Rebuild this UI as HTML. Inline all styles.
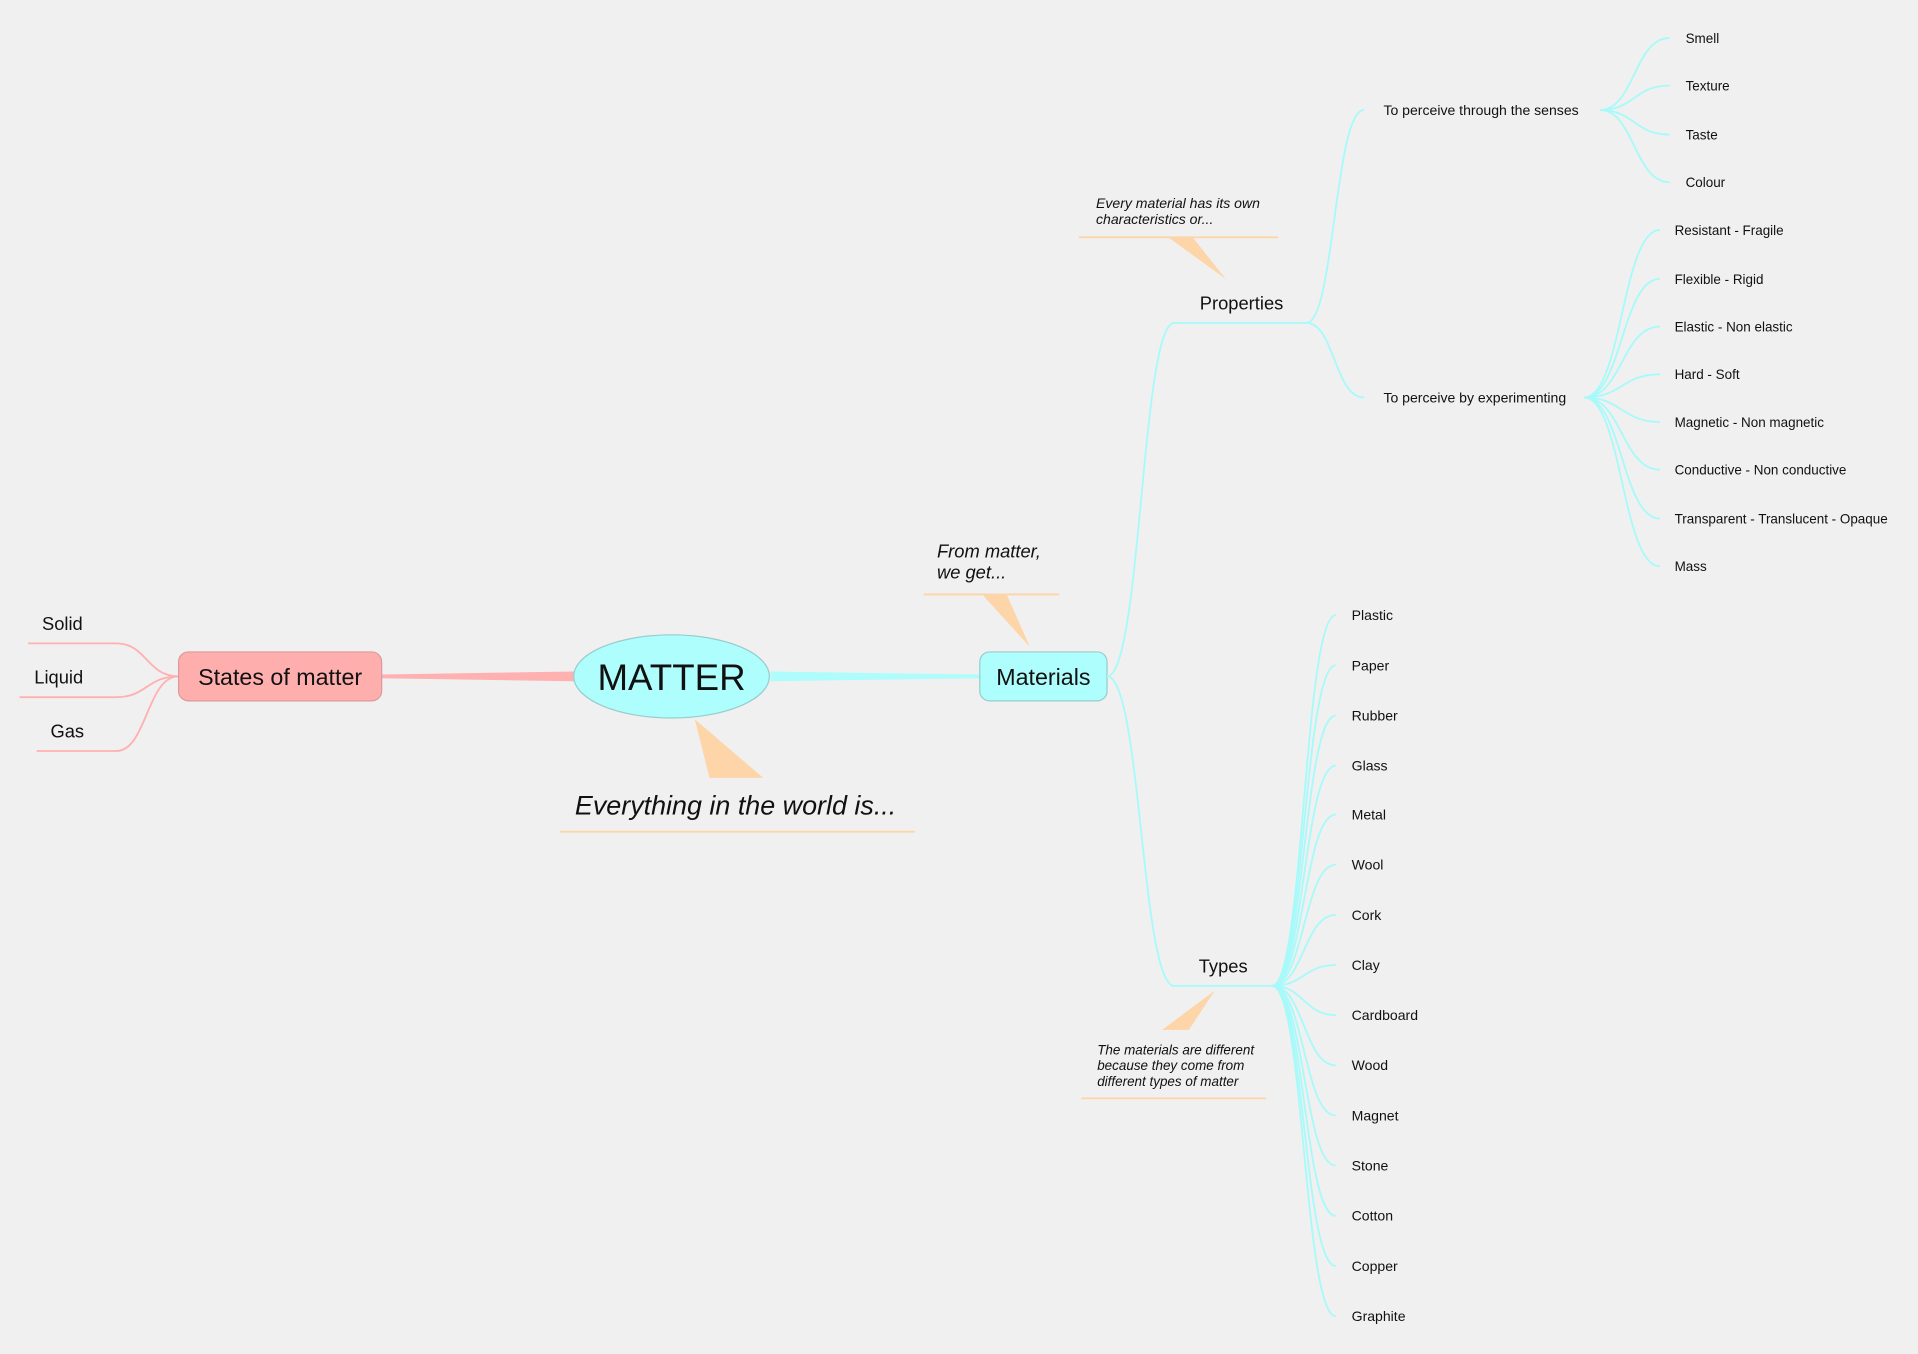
<!DOCTYPE html>
<html><head><meta charset="utf-8"><style>
html,body{margin:0;padding:0;background:#f0f0f0;}
svg{display:block;}
text{font-family:"Liberation Sans",sans-serif;fill:#111;}
.it{font-style:italic;}
.c{fill:none;stroke:#a8fafa;stroke-width:1.5;}
.p{fill:none;stroke:#ffb0b0;stroke-width:1.5;}
.n{fill:#fdd5a8;}
.u{stroke:#fdd5a8;stroke-width:1.5;}
</style></head><body>
<svg width="1918" height="1354" viewBox="0 0 1568 1107" preserveAspectRatio="none">
<rect width="1568" height="1107" fill="#f0f0f0"/>
<!-- main connectors -->
<polygon points="312,551.5 469,549 469,557 312,554.5" fill="#ffb0b0"/>
<polygon points="630,549 630,557 801,554.5 801,551.5" fill="#aefcfc"/>
<!-- pink branches -->
<path class="p" d="M146 553 C120 553 120 526 95 526 L23 526"/>
<path class="p" d="M146 553 C120 553 120 570 95 570 L16 570"/>
<path class="p" d="M146 553 C120 553 120 614 95 614 L30 614"/>
<text x="51" y="515" font-size="15" text-anchor="middle">Solid</text>
<text x="48" y="559" font-size="15" text-anchor="middle">Liquid</text>
<text x="55" y="603" font-size="15" text-anchor="middle">Gas</text>
<!-- nodes -->
<rect x="146" y="533" width="166" height="40" rx="8" fill="#ffaeae" stroke="#d99" stroke-width="1"/>
<text x="229" y="560" font-size="19" text-anchor="middle">States of matter</text>
<ellipse cx="549" cy="553" rx="80" ry="34" fill="#aefefe" stroke="#9cc" stroke-width="1"/>
<text x="549" y="564" font-size="30" text-anchor="middle">MATTER</text>
<rect x="801" y="533" width="104" height="40" rx="8" fill="#aefefe" stroke="#9cc" stroke-width="1"/>
<text x="853" y="560" font-size="19" text-anchor="middle">Materials</text>
<!-- notes -->
<polygon class="n" points="568,588 580,636 624,636"/>
<text x="470" y="666" font-size="22" class="it">Everything in the world is...</text>
<line class="u" x1="458" y1="680" x2="748" y2="680"/>
<text x="766" y="456" font-size="15" class="it">From matter,</text>
<text x="766" y="473" font-size="15" class="it">we get...</text>
<line class="u" x1="755" y1="486" x2="866" y2="486"/>
<polygon class="n" points="803,486 823,486 842,529"/>
<!-- properties -->
<path class="c" d="M905 553 C933 553 933 264 960 264 L1068 264"/>
<text x="1015" y="253" font-size="15" text-anchor="middle">Properties</text>
<text x="896" y="170" font-size="11.5" class="it">Every material has its own</text>
<text x="896" y="183" font-size="11.5" class="it">characteristics or...</text>
<line class="u" x1="882" y1="194" x2="1045" y2="194"/>
<polygon class="n" points="955,194 975,194 1002,228"/>
<path class="c" d="M1068 264 C1091 264 1091 90 1115 90"/>
<path class="c" d="M1068 264 C1091 264 1091 325 1115 325"/>
<text x="1131" y="94" font-size="11.5">To perceive through the senses</text>
<text x="1131" y="329" font-size="11.5">To perceive by experimenting</text>
<path class="c" d="M1308 90 C1336 90 1336 31 1365 31"/>
<path class="c" d="M1308 90 C1336 90 1336 70 1365 70"/>
<path class="c" d="M1308 90 C1336 90 1336 110 1365 110"/>
<path class="c" d="M1308 90 C1336 90 1336 149 1365 149"/>
<text x="1378" y="35" font-size="11">Smell</text>
<text x="1378" y="74" font-size="11">Texture</text>
<text x="1378" y="114" font-size="11">Taste</text>
<text x="1378" y="153" font-size="11">Colour</text>
<path class="c" d="M1295 325 C1326 325 1326 188 1357 188"/>
<path class="c" d="M1295 325 C1326 325 1326 228 1357 228"/>
<path class="c" d="M1295 325 C1326 325 1326 267 1357 267"/>
<path class="c" d="M1295 325 C1326 325 1326 306 1357 306"/>
<path class="c" d="M1295 325 C1326 325 1326 345 1357 345"/>
<path class="c" d="M1295 325 C1326 325 1326 384 1357 384"/>
<path class="c" d="M1295 325 C1326 325 1326 424 1357 424"/>
<path class="c" d="M1295 325 C1326 325 1326 463 1357 463"/>
<text x="1369" y="192" font-size="11">Resistant - Fragile</text>
<text x="1369" y="232" font-size="11">Flexible - Rigid</text>
<text x="1369" y="271" font-size="11">Elastic - Non elastic</text>
<text x="1369" y="310" font-size="11">Hard - Soft</text>
<text x="1369" y="349" font-size="11">Magnetic - Non magnetic</text>
<text x="1369" y="388" font-size="11">Conductive - Non conductive</text>
<text x="1369" y="428" font-size="11">Transparent - Translucent - Opaque</text>
<text x="1369" y="467" font-size="11">Mass</text>
<!-- types -->
<path class="c" d="M905 553 C933 553 933 806 960 806 L1040 806"/>
<text x="1000" y="795" font-size="15" text-anchor="middle">Types</text>
<polygon class="n" points="993,810 950,842 972,842"/>
<text x="897" y="862" font-size="11" class="it">The materials are different</text>
<text x="897" y="875" font-size="11" class="it">because they come from</text>
<text x="897" y="888" font-size="11" class="it">different types of matter</text>
<line class="u" x1="884" y1="898" x2="1035" y2="898"/>
<path class="c" d="M1040 806 C1066 806 1066 503 1092 503"/>
<path class="c" d="M1040 806 C1066 806 1066 544 1092 544"/>
<path class="c" d="M1040 806 C1066 806 1066 585 1092 585"/>
<path class="c" d="M1040 806 C1066 806 1066 626 1092 626"/>
<path class="c" d="M1040 806 C1066 806 1066 666 1092 666"/>
<path class="c" d="M1040 806 C1066 806 1066 707 1092 707"/>
<path class="c" d="M1040 806 C1066 806 1066 748 1092 748"/>
<path class="c" d="M1040 806 C1066 806 1066 789 1092 789"/>
<path class="c" d="M1040 806 C1066 806 1066 830 1092 830"/>
<path class="c" d="M1040 806 C1066 806 1066 871 1092 871"/>
<path class="c" d="M1040 806 C1066 806 1066 912 1092 912"/>
<path class="c" d="M1040 806 C1066 806 1066 953 1092 953"/>
<path class="c" d="M1040 806 C1066 806 1066 994 1092 994"/>
<path class="c" d="M1040 806 C1066 806 1066 1035 1092 1035"/>
<path class="c" d="M1040 806 C1066 806 1066 1076 1092 1076"/>
<g font-size="11.5">
<text x="1105" y="507">Plastic</text>
<text x="1105" y="548">Paper</text>
<text x="1105" y="589">Rubber</text>
<text x="1105" y="630">Glass</text>
<text x="1105" y="670">Metal</text>
<text x="1105" y="711">Wool</text>
<text x="1105" y="752">Cork</text>
<text x="1105" y="793">Clay</text>
<text x="1105" y="834">Cardboard</text>
<text x="1105" y="875">Wood</text>
<text x="1105" y="916">Magnet</text>
<text x="1105" y="957">Stone</text>
<text x="1105" y="998">Cotton</text>
<text x="1105" y="1039">Copper</text>
<text x="1105" y="1080">Graphite</text>
</g>
</svg>
</body></html>
